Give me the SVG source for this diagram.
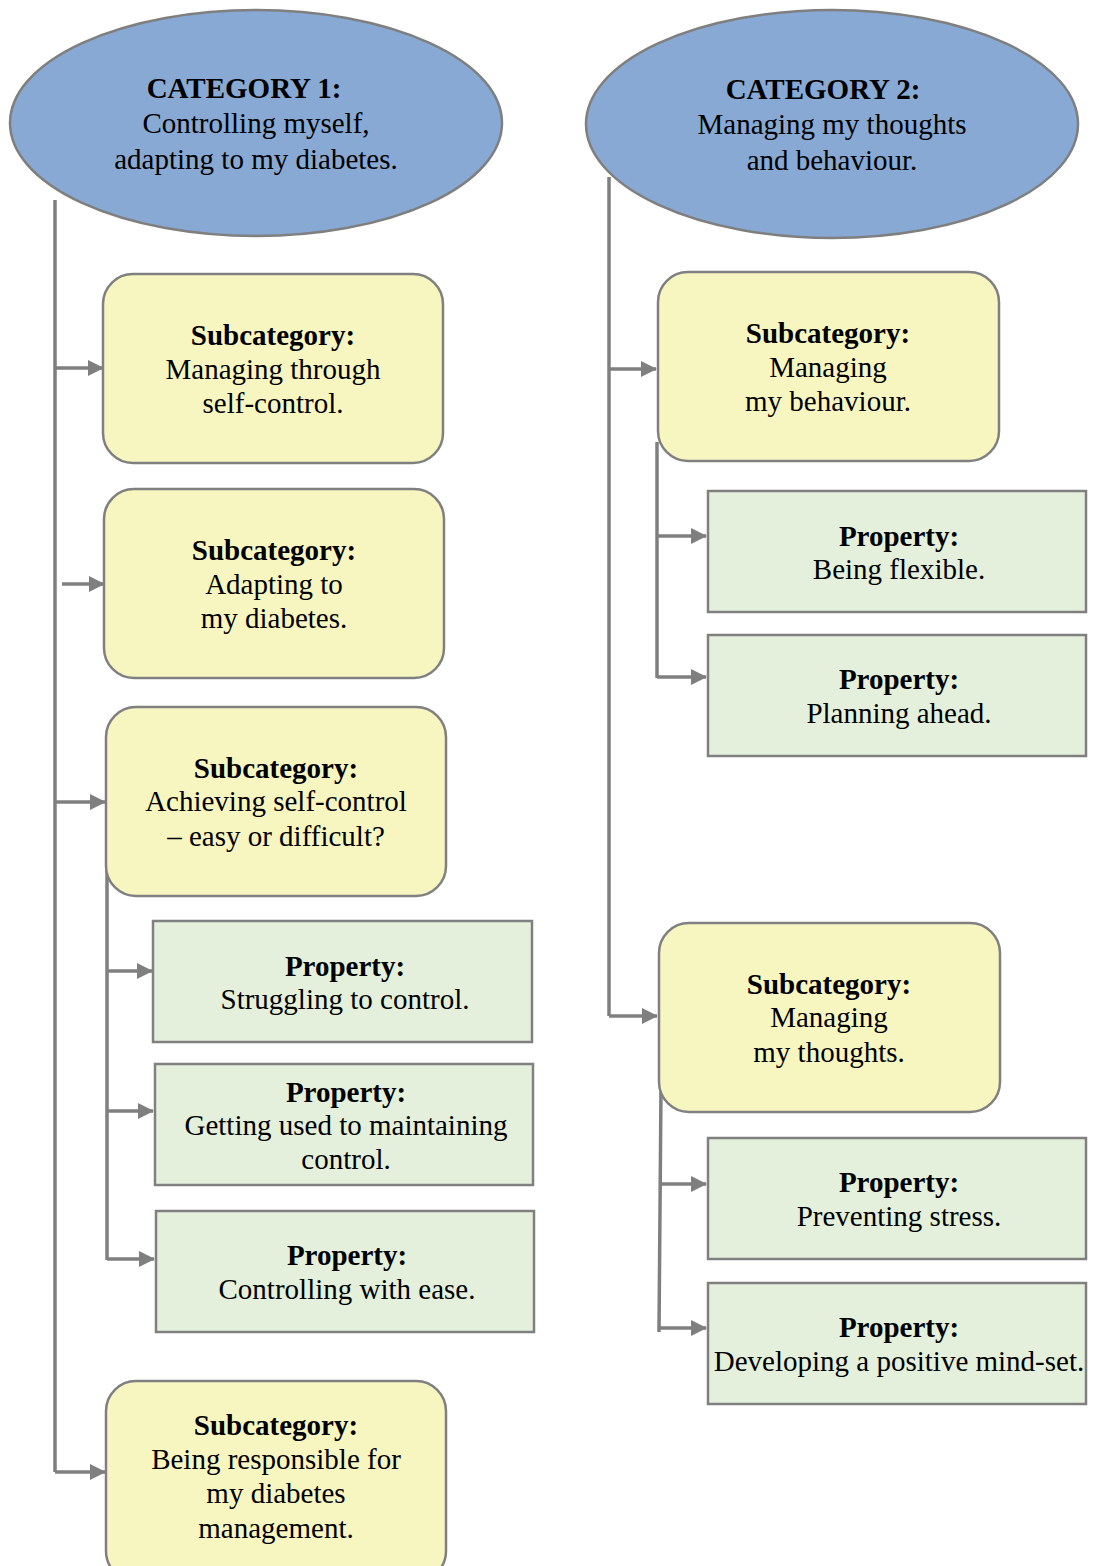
<svg xmlns="http://www.w3.org/2000/svg" width="1095" height="1566" viewBox="0 0 1095 1566">
  <defs>
    <marker id="arrow" viewBox="0 0 16 16" refX="15" refY="8" markerWidth="16" markerHeight="16" markerUnits="userSpaceOnUse" orient="auto">
      <path d="M0,0 L16,8 L0,16 Z" fill="#7f7f7f"/>
    </marker>
  </defs>
  <style>
    .cat { fill: #87a9d3; stroke: #7f7f7f; stroke-width: 2.5; }
    .sub { fill: #f8f6c0; stroke: #808080; stroke-width: 2.5; }
    .prop { fill: #e4f0dc; stroke: #808080; stroke-width: 2.5; }
    .link { fill: none; stroke: #7f7f7f; stroke-width: 3.5; }
    .arr { fill: none; stroke: #7f7f7f; stroke-width: 3.5; marker-end: url(#arrow); }
    text { font-family: "Liberation Serif", "Times New Roman", serif; font-size: 29px; fill: #000; text-anchor: middle; }
    .b { font-weight: bold; }
  </style>

  <rect width="1095" height="1566" fill="#ffffff"/>

  <!-- connectors -->
  <g id="connectors">
    <!-- category 1 trunk -->
    <path class="link" d="M55,200 V1472"/>
    <path class="arr" d="M55,368 H103"/>
    <path class="arr" d="M62,584 H104"/>
    <path class="arr" d="M55,802 H105"/>
    <path class="arr" d="M55,1472 H105"/>
    <!-- properties under "Achieving self-control" -->
    <path class="link" d="M107,870 V1260"/>
    <path class="arr" d="M107,971 H152"/>
    <path class="arr" d="M107,1111 H153"/>
    <path class="arr" d="M107,1259 H154"/>
    <!-- category 2 trunk -->
    <path class="link" d="M609,177 V1016"/>
    <path class="arr" d="M609,369 H656"/>
    <path class="arr" d="M609,1016 H657"/>
    <!-- properties under "Managing my behaviour" -->
    <path class="link" d="M657,442 V678"/>
    <path class="arr" d="M657,536 H706"/>
    <path class="arr" d="M657,677 H706"/>
    <!-- properties under "Managing my thoughts" -->
    <path class="link" d="M661,1088 L659,1332"/>
    <path class="arr" d="M660,1184 H706"/>
    <path class="arr" d="M659,1328 H706"/>
  </g>

  <!-- categories -->
  <g id="category1">
    <ellipse class="cat" cx="256" cy="123" rx="246" ry="113"/>
    <text x="244" y="98" class="b">CATEGORY 1:</text>
    <text x="256" y="133">Controlling myself,</text>
    <text x="256" y="169">adapting to my diabetes.</text>
  </g>
  <g id="category2">
    <ellipse class="cat" cx="832" cy="124" rx="246" ry="114"/>
    <text x="823" y="99" class="b">CATEGORY 2:</text>
    <text x="832" y="134">Managing my thoughts</text>
    <text x="832" y="170">and behaviour.</text>
  </g>

  <!-- category 1 subcategories -->
  <g id="sub-self-control">
    <rect class="sub" x="103" y="274" width="340" height="189" rx="30"/>
    <text x="273" y="345" class="b">Subcategory:</text>
    <text x="273" y="379">Managing through</text>
    <text x="273" y="413">self-control.</text>
  </g>
  <g id="sub-adapting">
    <rect class="sub" x="104" y="489" width="340" height="189" rx="30"/>
    <text x="274" y="560" class="b">Subcategory:</text>
    <text x="274" y="594">Adapting to</text>
    <text x="274" y="628">my diabetes.</text>
  </g>
  <g id="sub-achieving">
    <rect class="sub" x="106" y="707" width="340" height="189" rx="30"/>
    <text x="276" y="778" class="b">Subcategory:</text>
    <text x="276" y="811">Achieving self-control</text>
    <text x="276" y="846">– easy or difficult?</text>
  </g>
  <g id="prop-struggling">
    <rect class="prop" x="153" y="921" width="379" height="121"/>
    <text x="345" y="976" class="b">Property:</text>
    <text x="345" y="1009">Struggling to control.</text>
  </g>
  <g id="prop-getting-used">
    <rect class="prop" x="155" y="1064" width="378" height="121"/>
    <text x="346" y="1102" class="b">Property:</text>
    <text x="346" y="1135">Getting used to maintaining</text>
    <text x="346" y="1169">control.</text>
  </g>
  <g id="prop-ease">
    <rect class="prop" x="156" y="1211" width="378" height="121"/>
    <text x="347" y="1265" class="b">Property:</text>
    <text x="347" y="1299">Controlling with ease.</text>
  </g>
  <g id="sub-responsible">
    <rect class="sub" x="106" y="1381" width="340" height="200" rx="30"/>
    <text x="276" y="1435" class="b">Subcategory:</text>
    <text x="276" y="1469">Being responsible for</text>
    <text x="276" y="1503">my diabetes</text>
    <text x="276" y="1538">management.</text>
  </g>

  <!-- category 2 subcategories -->
  <g id="sub-behaviour">
    <rect class="sub" x="658" y="272" width="341" height="189" rx="30"/>
    <text x="828" y="343" class="b">Subcategory:</text>
    <text x="828" y="377">Managing</text>
    <text x="828" y="411">my behaviour.</text>
  </g>
  <g id="prop-flexible">
    <rect class="prop" x="708" y="491" width="378" height="121"/>
    <text x="899" y="546" class="b">Property:</text>
    <text x="899" y="579">Being flexible.</text>
  </g>
  <g id="prop-planning">
    <rect class="prop" x="708" y="635" width="378" height="121"/>
    <text x="899" y="689" class="b">Property:</text>
    <text x="899" y="723">Planning ahead.</text>
  </g>
  <g id="sub-thoughts">
    <rect class="sub" x="659" y="923" width="341" height="189" rx="30"/>
    <text x="829" y="994" class="b">Subcategory:</text>
    <text x="829" y="1027">Managing</text>
    <text x="829" y="1062">my thoughts.</text>
  </g>
  <g id="prop-stress">
    <rect class="prop" x="708" y="1138" width="378" height="121"/>
    <text x="899" y="1192" class="b">Property:</text>
    <text x="899" y="1226">Preventing stress.</text>
  </g>
  <g id="prop-mindset">
    <rect class="prop" x="708" y="1283" width="378" height="121"/>
    <text x="899" y="1337" class="b">Property:</text>
    <text x="899" y="1371">Developing a positive mind-set.</text>
  </g>
</svg>
